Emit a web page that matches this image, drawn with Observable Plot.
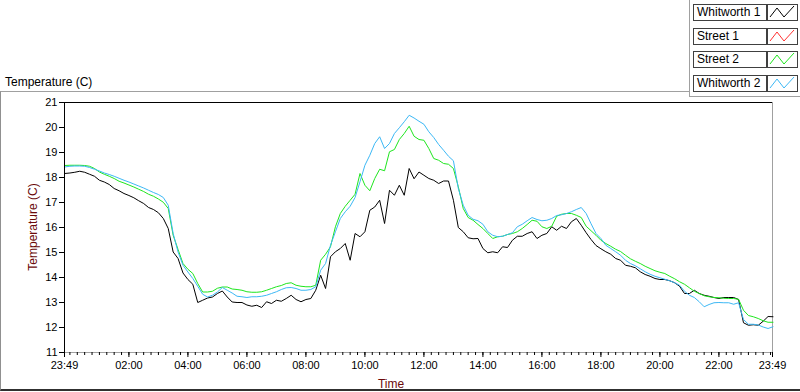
<!DOCTYPE html>
<html><head><meta charset="utf-8">
<script src="https://cdn.jsdelivr.net/npm/d3@7"></script>
<script src="https://cdn.jsdelivr.net/npm/@observablehq/plot@0.6"></script>
<style>
body{margin:0;background:#fff;font-family:"Liberation Sans",Arial,sans-serif;}
#wrap{position:relative;width:800px;height:392px;overflow:hidden;background:#fff;}
#chart{position:absolute;left:0;top:0;}
#panel{position:absolute;left:0;top:91px;width:800px;height:297px;border-top:1px solid #a0a0a0;border-left:1px solid #909090;border-bottom:2px solid #303030;box-sizing:content-box;}
#hdr{position:absolute;left:5px;top:75px;font-size:12px;color:#000;}
#ytitle{position:absolute;left:33px;top:227px;font-size:12px;color:#6b0a0a;transform:translate(-50%,-50%) rotate(-90deg);white-space:nowrap;}
#xtitle{position:absolute;left:391px;top:377px;font-size:12px;color:#6b0a0a;transform:translateX(-50%);}
#legbox{position:absolute;left:689px;top:0;width:111px;height:96px;border-left:1px solid #a0a0a0;border-bottom:1px solid #a0a0a0;background:#fff;}
.lrow{position:absolute;left:3px;height:17px;}
.lname{position:absolute;left:0;top:0;width:69px;height:15px;border:1px solid #404040;font-size:12px;line-height:15px;padding-left:3px;background:#fff;white-space:nowrap;}
.lsw{position:absolute;left:74px;top:0;width:29px;height:15px;border:1px solid #404040;background:#fff;}
</style></head><body>
<div id="wrap">
  <div id="panel"></div>
  <div id="hdr">Temperature (C)</div>
  <div id="chart"></div>
  <div id="ytitle">Temperature (C)</div>
  <div id="xtitle">Time</div>
  <div id="legbox"></div>
</div>
<script>
// ---- data ----
const seriesNames = ["Whitworth 1", "Street 1", "Street 2", "Whitworth 2"];
const seriesColors = ["#000000", "#ff3030", "#1ee61e", "#3cb8f5"];
const yTicks = [11, 12, 13, 14, 15, 16, 17, 18, 19, 20, 21];
const yDomain = [11, 21];

// sample times: 23:49, then every 10 minutes 00:00 ... 23:40, then 23:49
const startTime = new Date(2020, 0, 1, 23, 49);
const endTime = new Date(2020, 0, 2, 23, 49);
const times = [startTime, ...d3.range(0, 144).map(i => new Date(2020, 0, 2, 0, i * 10)), endTime];

// Whitworth 1 (black)
const whitworth1 = [18.16,
  18.18, 18.21, 18.25, 18.21, 18.13, 18.05,
  17.89, 17.82, 17.72, 17.56, 17.47, 17.36,
  17.28, 17.19, 17.07, 16.96, 16.80, 16.72,
  16.59, 16.36, 15.96, 15.02, 14.76, 14.18,
  13.92, 13.73, 13.00, 13.09, 13.18, 13.22,
  13.36, 13.46, 13.22, 13.02, 13.00, 13.00,
  12.90, 12.85, 12.89, 12.80, 13.03, 12.96,
  13.09, 13.05, 13.16, 13.29, 13.12, 13.03,
  13.12, 13.16, 13.49, 14.09, 13.56, 14.83,
  15.03, 15.16, 15.36, 14.69, 15.76, 15.63,
  15.83, 16.69, 16.82, 17.09, 16.16, 17.49,
  17.29, 17.69, 17.29, 18.36, 17.95, 18.22,
  18.09, 17.96, 17.89, 17.76, 17.86, 17.86,
  17.09, 16.00, 15.83, 15.59, 15.55, 15.56,
  15.16, 14.99, 15.03, 14.99, 15.23, 15.20,
  15.49, 15.65, 15.65, 15.76, 15.83, 15.56,
  15.69, 15.76, 16.03, 15.89, 16.05, 15.96,
  16.23, 16.36, 16.09, 15.79, 15.52, 15.28,
  15.15, 15.03, 14.93, 14.76, 14.69, 14.49,
  14.45, 14.39, 14.23, 14.12, 14.05, 13.96,
  13.92, 13.92, 13.87, 13.79, 13.65, 13.36,
  13.36, 13.49, 13.36, 13.29, 13.25, 13.20,
  13.16, 13.20, 13.20, 13.20, 13.12, 12.19,
  12.09, 12.11, 12.09, 12.25, 12.44, 12.43];

// Street 1 (red): no trace visible in the chart
const street1 = [];

// Street 2 (green)
const street2 = [18.48,
  18.49, 18.49, 18.49, 18.48, 18.45, 18.36,
  18.22, 18.13, 18.05, 17.96, 17.85, 17.78,
  17.70, 17.62, 17.53, 17.44, 17.33, 17.25,
  17.14, 17.01, 16.76, 15.69, 15.12, 14.56,
  14.33, 14.16, 13.76, 13.42, 13.42, 13.45,
  13.57, 13.62, 13.62, 13.54, 13.52, 13.49,
  13.43, 13.41, 13.41, 13.43, 13.49, 13.56,
  13.63, 13.68, 13.76, 13.79, 13.69, 13.65,
  13.63, 13.63, 13.69, 14.69, 14.93, 15.23,
  16.03, 16.56, 16.85, 17.09, 17.33, 18.16,
  17.69, 17.47, 17.96, 18.33, 18.27, 19.03,
  19.12, 19.52, 19.76, 20.05, 19.65, 19.52,
  19.49, 19.16, 18.76, 18.69, 18.56, 18.53,
  18.36, 17.63, 16.76, 16.40, 16.29, 16.12,
  15.96, 15.76, 15.56, 15.63, 15.65, 15.72,
  15.76, 15.83, 15.96, 16.12, 16.29, 16.25,
  16.03, 15.96, 16.05, 16.45, 16.53, 16.56,
  16.56, 16.49, 16.40, 16.05, 15.87, 15.69,
  15.49, 15.36, 15.25, 15.13, 15.04, 14.89,
  14.75, 14.65, 14.56, 14.45, 14.36, 14.27,
  14.21, 14.16, 14.05, 13.95, 13.83, 13.73,
  13.59, 13.45, 13.36, 13.27, 13.23, 13.20,
  13.19, 13.17, 13.16, 13.16, 13.13, 12.69,
  12.48, 12.43, 12.36, 12.27, 12.21, 12.21];

// Whitworth 2 (blue)
const whitworth2 = [18.42,
  18.45, 18.46, 18.46, 18.45, 18.40, 18.33,
  18.26, 18.18, 18.12, 18.05, 17.97, 17.89,
  17.82, 17.74, 17.66, 17.58, 17.49, 17.40,
  17.32, 17.20, 16.89, 15.76, 15.02, 14.49,
  14.22, 13.96, 13.65, 13.33, 13.22, 13.29,
  13.42, 13.60, 13.49, 13.38, 13.25, 13.23,
  13.20, 13.23, 13.23, 13.25, 13.29, 13.36,
  13.43, 13.52, 13.59, 13.60, 13.56, 13.49,
  13.49, 13.52, 13.63, 14.29, 14.56, 15.29,
  15.83, 16.36, 16.63, 16.85, 17.20, 17.83,
  18.49, 18.89, 19.36, 19.63, 19.16, 19.36,
  19.76, 19.99, 20.23, 20.49, 20.38, 20.25,
  20.13, 19.83, 19.60, 19.32, 19.09, 18.85,
  18.67, 17.56, 16.89, 16.49, 16.33, 16.27,
  16.13, 15.83, 15.69, 15.63, 15.65, 15.72,
  15.79, 16.03, 16.13, 16.27, 16.40, 16.32,
  16.27, 16.29, 16.36, 16.48, 16.51, 16.56,
  16.63, 16.72, 16.80, 16.56, 16.15, 15.76,
  15.56, 15.29, 15.16, 15.03, 14.89, 14.69,
  14.56, 14.47, 14.35, 14.23, 14.13, 14.05,
  13.99, 13.93, 13.87, 13.79, 13.69, 13.45,
  13.29, 13.20, 13.03, 12.83, 12.92, 12.99,
  13.00, 12.99, 12.99, 12.93, 12.99, 12.32,
  12.13, 12.13, 12.10, 12.02, 11.96, 12.03];

// ---- build ----
const seriesValues = [whitworth1, street1, street2, whitworth2];
const rows = [];
seriesValues.forEach((vals, s) => {
  vals.forEach((v, i) => rows.push({series: seriesNames[s], time: times[i], value: v}));
});

const majorTicks = [startTime, ...d3.range(2, 24, 2).map(h => new Date(2020, 0, 2, h, 0)), endTime];
const minorTicks = d3.timeMinute.every(15).range(new Date(2020, 0, 2, 0, 0), endTime);
const fmt = d3.timeFormat("%H:%M");

const chart = Plot.plot({
  width: 800,
  height: 392,
  marginLeft: 64,
  marginRight: 28,
  marginTop: 102,
  marginBottom: 40,
  style: {fontFamily: "Liberation Sans, Arial, sans-serif", fontSize: "11px", background: "transparent", color: "#000"},
  x: {type: "time", domain: [startTime, endTime]},
  y: {domain: yDomain},
  color: {domain: seriesNames, range: seriesColors},
  marks: [
    Plot.frame({stroke: "#a0a0a0"}),
    Plot.axisY({ticks: yTicks, tickSize: 5, tickPadding: 2, label: null, fontSize: 11}),
    Plot.axisX({ticks: minorTicks, tickSize: 3, tickFormat: () => "", label: null}),
    Plot.axisX({ticks: majorTicks, tickSize: 5, tickPadding: 4, tickFormat: fmt, label: null, fontSize: 11}),
    Plot.line(rows, {x: "time", y: "value", z: "series", stroke: "series", strokeWidth: 1, curve: "linear"}),
    Plot.ruleX([startTime], {stroke: "#000"}),
    Plot.ruleY([yDomain[1]], {stroke: "#000"})
  ]
});
document.getElementById("chart").appendChild(chart);

// ---- legend ----
const leg = document.getElementById("legbox");
seriesNames.forEach((name, i) => {
  const row = document.createElement("div");
  row.className = "lrow";
  row.style.top = (4 + i * 23.5) + "px";
  row.innerHTML = `<div class="lname">${name}</div><div class="lsw"><svg width="29" height="15"><polyline points="2,12 9,3 16,12 26,1" fill="none" stroke="${seriesColors[i]}" stroke-width="1"/></svg></div>`;
  leg.appendChild(row);
});
</script>
</body></html>
